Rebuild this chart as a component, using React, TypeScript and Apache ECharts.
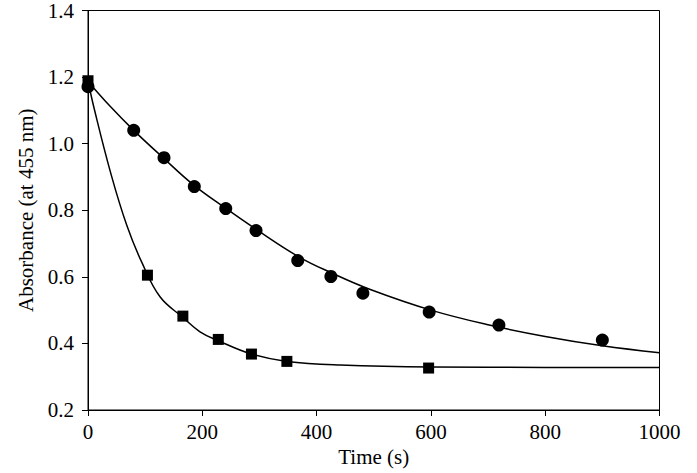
import React, { useEffect, useRef } from "react";
import * as echarts from "echarts";

// Measured points: circles
const circleTime = [0, 80, 133, 186, 241, 294, 367, 425, 481, 597, 719, 900];
const circleAbs = [1.171, 1.04, 0.958, 0.871, 0.805, 0.739, 0.649, 0.601, 0.551, 0.494, 0.455, 0.41];

// Measured points: squares
const squareTime = [0, 104, 166, 228, 286, 348, 596];
const squareAbs = [1.189, 0.605, 0.482, 0.412, 0.368, 0.346, 0.326];

// Fitted curve (circles)
const fitCircleTime = [0, 40, 80, 130, 184, 240, 293, 368, 426, 494, 600, 700, 800, 900, 1000];
const fitCircleAbs = [1.187, 1.11, 1.04, 0.96, 0.877, 0.807, 0.744, 0.661, 0.612, 0.562, 0.5, 0.456, 0.421, 0.393, 0.372];

// Fitted curve (squares)
const fitSquareTime = [0, 11, 41, 68, 94, 126, 166, 196, 228, 286, 348, 441, 600, 800, 1000];
const fitSquareAbs = [1.189, 1.104, 0.904, 0.754, 0.644, 0.54, 0.478, 0.435, 0.408, 0.368, 0.346, 0.335, 0.329, 0.328, 0.328];

const xTicks = { min: 0, max: 1000, interval: 200 };
const yTicks = { min: 0.2, max: 1.4, interval: 0.2 };

const zip = (xs: number[], ys: number[]) => xs.map((x, i) => [x, ys[i]]);

const FONT = "'Liberation Serif', 'Times New Roman', serif";

export default function App() {
  const ref = useRef<HTMLDivElement>(null);
  useEffect(() => {
    if (!ref.current) return;
    const chart = echarts.init(ref.current, null, { renderer: "svg" });
    chart.setOption({
      animation: false,
      backgroundColor: "#fff",
      grid: {
        left: 88,
        right: 37.5,
        top: 9.5,
        bottom: 63,
        show: true,
        borderColor: "#000",
        borderWidth: 1,
        backgroundColor: "transparent",
      },
      xAxis: {
        type: "value",
        min: xTicks.min,
        max: xTicks.max,
        interval: xTicks.interval,
        name: "Time (s)",
        nameLocation: "middle",
        nameGap: 27,
        nameTextStyle: { fontFamily: FONT, fontSize: 21, color: "#000" },
        axisLine: { show: true, lineStyle: { color: "#000", width: 1 } },
        axisTick: { show: true, inside: false, length: 6, lineStyle: { color: "#000" } },
        axisLabel: {
          fontFamily: FONT,
          fontSize: 21,
          color: "#000",
          margin: 11,
          formatter: (v: number) => String(v),
        },
        splitLine: { show: false },
      },
      yAxis: {
        type: "value",
        min: yTicks.min,
        max: yTicks.max,
        interval: yTicks.interval,
        name: "Absorbance (at 455 nm)",
        nameLocation: "middle",
        nameGap: 52,
        nameTextStyle: { fontFamily: FONT, fontSize: 21, color: "#000" },
        axisLine: { show: true, lineStyle: { color: "#000", width: 1 } },
        axisTick: { show: true, inside: false, length: 6, lineStyle: { color: "#000" } },
        axisLabel: {
          fontFamily: FONT,
          fontSize: 21,
          color: "#000",
          margin: 14,
          formatter: (v: number) => v.toFixed(1),
        },
        splitLine: { show: false },
      },
      series: [
        {
          type: "line",
          data: zip(fitCircleTime, fitCircleAbs),
          smooth: 0.4,
          showSymbol: false,
          symbol: "none",
          lineStyle: { color: "#000", width: 1.5 },
          z: 2,
        },
        {
          type: "line",
          data: zip(fitSquareTime, fitSquareAbs),
          smooth: 0.4,
          showSymbol: false,
          symbol: "none",
          lineStyle: { color: "#000", width: 1.5 },
          z: 2,
        },
        {
          type: "scatter",
          data: zip(circleTime, circleAbs),
          symbol: "circle",
          symbolSize: 13,
          itemStyle: { color: "#000", opacity: 1 },
          z: 3,
        },
        {
          type: "scatter",
          data: zip(squareTime, squareAbs),
          symbol: "rect",
          symbolSize: 11,
          itemStyle: { color: "#000", opacity: 1 },
          z: 3,
        },
      ],
    });
    return () => chart.dispose();
  }, []);
  return (
    <div
      ref={ref}
      style={{ position: "fixed", left: 0, top: 0, width: 697, height: 473, background: "#fff" }}
    />
  );
}
